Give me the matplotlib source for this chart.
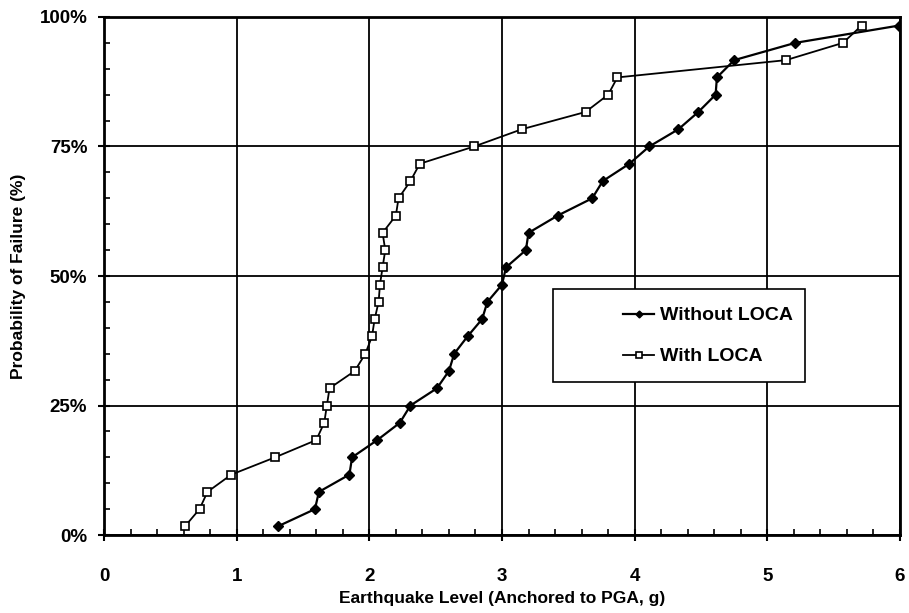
import matplotlib
matplotlib.use("Agg")
import matplotlib.pyplot as plt
from matplotlib.patches import Rectangle
from matplotlib.ticker import MultipleLocator, FuncFormatter

plt.rcParams['font.family'] = ['Liberation Sans', 'DejaVu Sans']
plt.rcParams['font.weight'] = 'bold'

# probability levels (30 samples each, plotted at (i - 0.5) / 30)
n_samples = 30
prob = [(i - 0.5) / n_samples * 100 for i in range(1, n_samples + 1)]

pga_without_loca = [1.31, 1.59, 1.62, 1.85, 1.87, 2.06, 2.23, 2.31, 2.51, 2.60,
                    2.64, 2.74, 2.85, 2.89, 3.00, 3.03, 3.18, 3.20, 3.42, 3.68,
                    3.76, 3.96, 4.11, 4.33, 4.48, 4.61, 4.62, 4.75, 5.21, 5.99]
pga_with_loca = [0.61, 0.72, 0.78, 0.96, 1.29, 1.60, 1.66, 1.68, 1.70, 1.89,
                 1.97, 2.02, 2.04, 2.07, 2.08, 2.10, 2.12, 2.10, 2.20, 2.22,
                 2.31, 2.38, 2.79, 3.15, 3.63, 3.80, 3.87, 5.14, 5.57, 5.71]

fig = plt.figure(figsize=(9.09, 6.13), dpi=100)
ax = fig.add_axes([0.1144, 0.1272, 0.8757, 0.8451])

ax.plot(pga_without_loca, prob, color='black', lw=1.6, marker='D', ms=5,
        mfc='black', mec='black', label='Without LOCA', zorder=3)
ax.plot(pga_with_loca, prob, color='black', lw=1.3, marker='s', ms=6,
        mfc='white', mec='black', mew=1.2, label='With LOCA', zorder=4)

ax.set_xlim(0, 6)
ax.set_ylim(0, 100)
ax.xaxis.set_major_locator(MultipleLocator(1))
ax.xaxis.set_minor_locator(MultipleLocator(0.2))
ax.yaxis.set_major_locator(MultipleLocator(25))
ax.yaxis.set_minor_locator(MultipleLocator(5))
ax.yaxis.set_major_formatter(FuncFormatter(lambda v, p: f"{v:.0f}%"))

ax.grid(which='major', color='black', lw=1.3)
ax.tick_params(which='major', direction='inout', length=8, width=1.5,
               labelsize=13.5, pad=8)
ax.tick_params(which='minor', direction='in', length=4, width=1.2)
ax.tick_params(axis='x', pad=20)
for s in ax.spines.values():
    s.set_linewidth(2)

ax.set_xlabel('Earthquake Level (Anchored to PGA, g)', fontsize=12.5,
              fontweight='bold', labelpad=4)
ax.set_ylabel('Probability of Failure (%)', fontsize=12.5,
              fontweight='bold', labelpad=10)

# legend frame drawn separately so it can be wider than its contents
ax.add_patch(Rectangle((0.564, 0.2954), 0.3167, 0.1796, transform=ax.transAxes,
                       facecolor='white', edgecolor='black', lw=1.2, zorder=5))
leg = ax.legend(loc='center right', bbox_to_anchor=(0.878, 0.384),
                frameon=False, fontsize=14, handlelength=1.6, handletextpad=0.3,
                labelspacing=1.2, borderpad=0.0, markerscale=0.7)
leg.set_zorder(6)
for t in leg.get_texts():
    t.set_fontweight('bold')

fig.savefig('out.png', dpi=100, facecolor='white')
